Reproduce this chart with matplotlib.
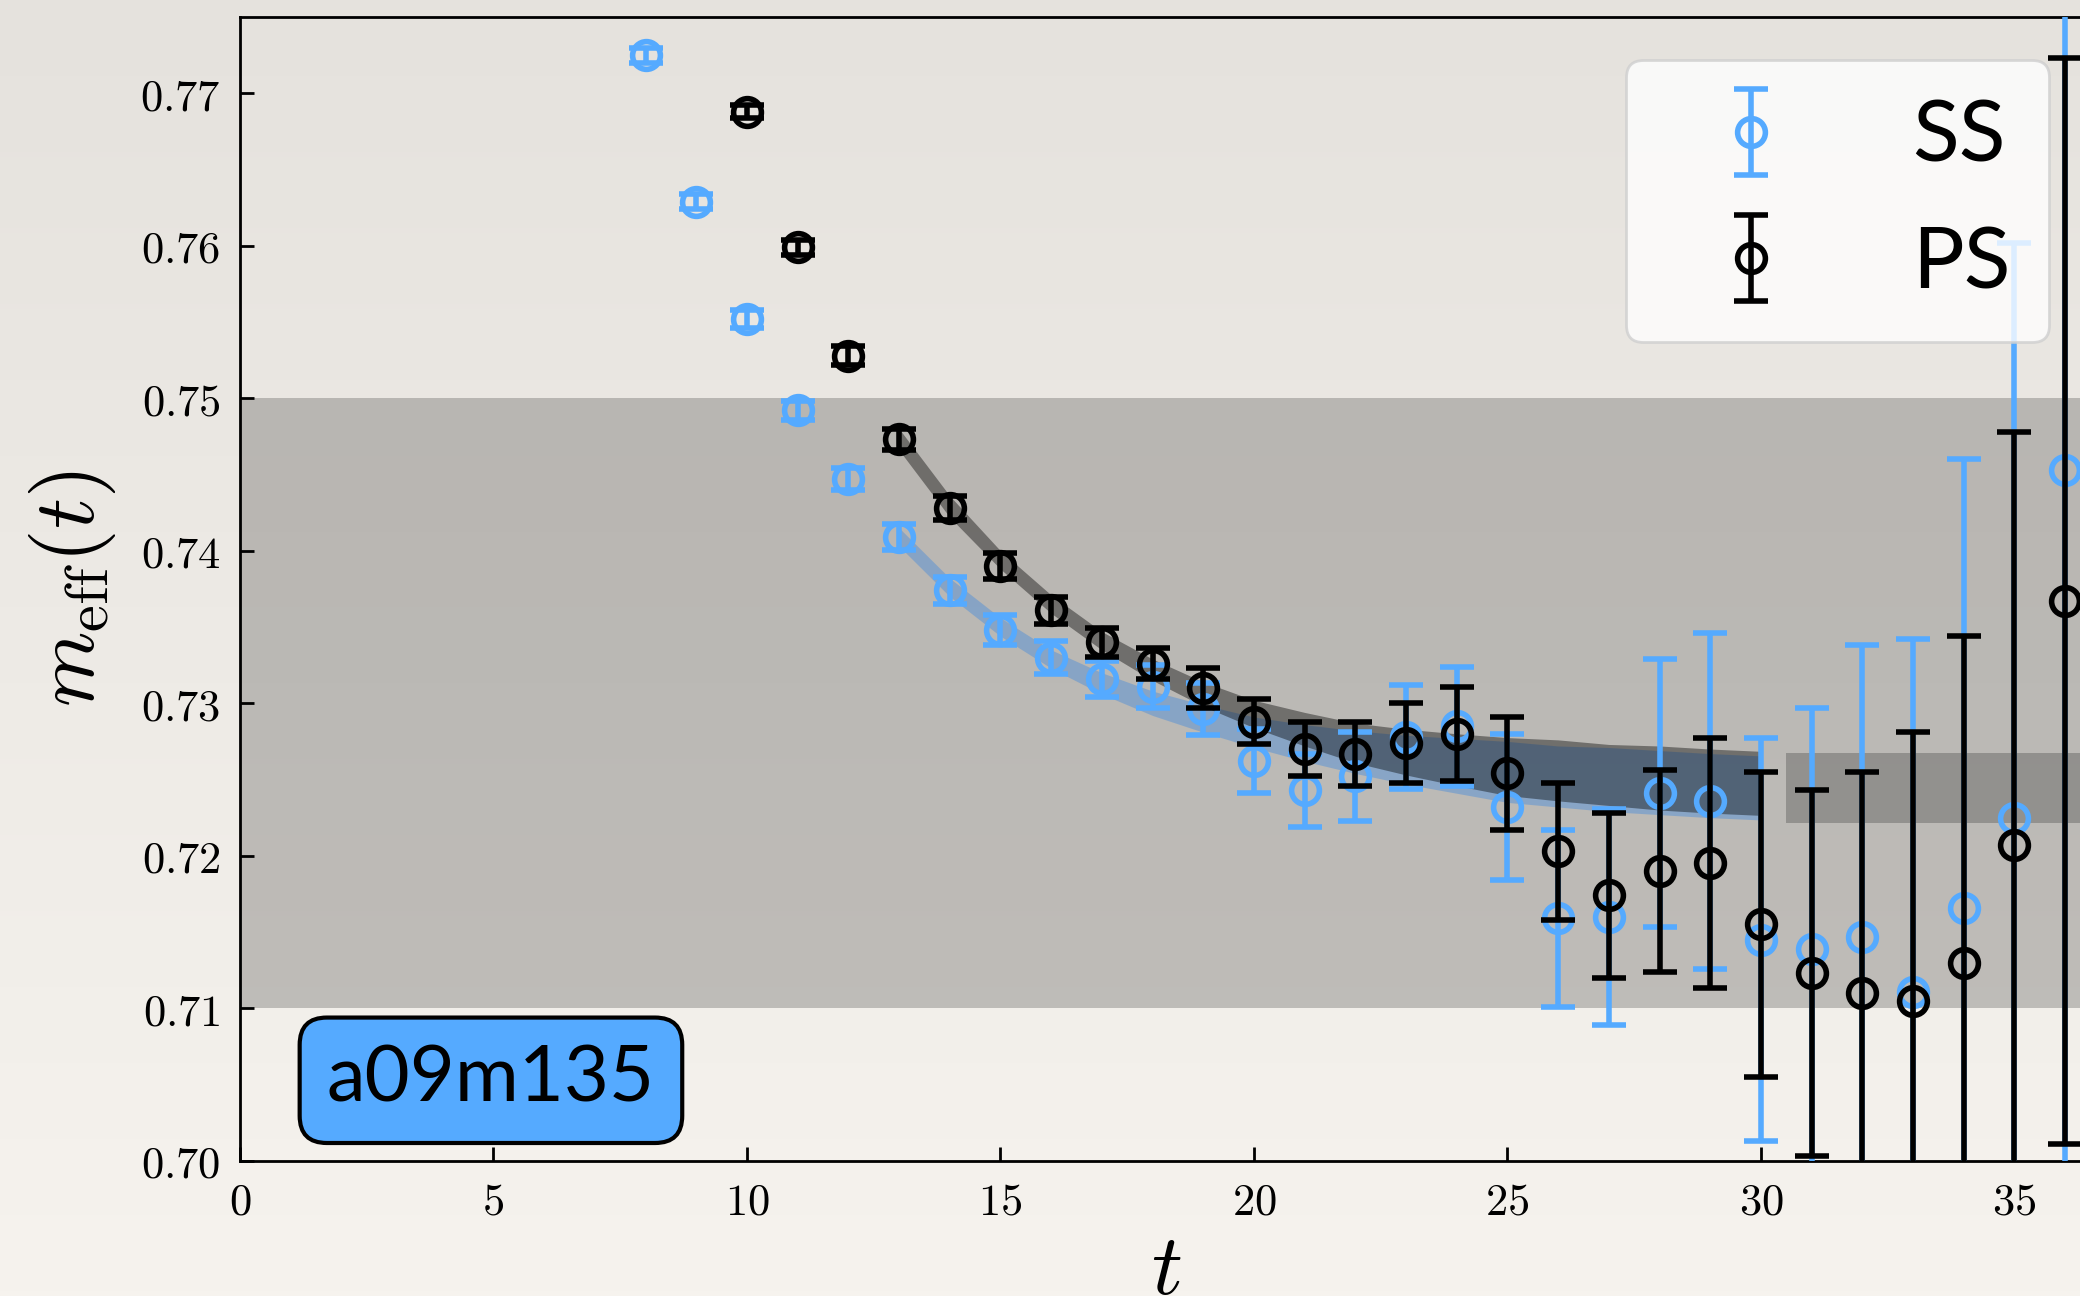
"""Effective mass plot for a09m135: SS and PS correlators with fit bands."""

import numpy as np
import matplotlib
matplotlib.use("Agg")
import matplotlib.pyplot as plt
from matplotlib.colors import LinearSegmentedColormap

plt.rcParams["mathtext.fontset"] = "cm"

# --- data ---
t_ss = list(range(8, 37))
m_ss = [0.7725, 0.7629, 0.7552, 0.7492, 0.7447, 0.7409, 0.7374, 0.7348,
        0.7330, 0.7316, 0.7311, 0.7296, 0.7262, 0.7243, 0.7252, 0.7278,
        0.7285, 0.7232, 0.7159, 0.7160, 0.7241, 0.7236, 0.7145, 0.7139,
        0.7147, 0.7111, 0.7166, 0.7225, 0.7453]
err_ss = [0.0005, 0.0005, 0.0006, 0.0006, 0.0007, 0.00085, 0.0009, 0.00097,
          0.0011, 0.0012, 0.0014, 0.0017, 0.0021, 0.0024, 0.0029, 0.0034,
          0.0039, 0.0048, 0.0058, 0.0071, 0.0088, 0.0110, 0.0132, 0.0158,
          0.0191, 0.0231, 0.0294, 0.0377, 0.0480]

t_ps = list(range(10, 37))
m_ps = [0.7688, 0.7599, 0.7528, 0.7473, 0.7428, 0.7390, 0.7361, 0.7340,
        0.7326, 0.7310, 0.7288, 0.7270, 0.7267, 0.7274, 0.7280, 0.7254,
        0.7203, 0.7174, 0.7190, 0.7195, 0.7155, 0.7123, 0.7110, 0.7105,
        0.7130, 0.7207, 0.7367]
err_ps = [0.0004, 0.0005, 0.0006, 0.0007, 0.00077, 0.00085, 0.0009, 0.00095,
          0.00104, 0.0013, 0.0015, 0.0018, 0.0021, 0.0026, 0.0031, 0.0037,
          0.0045, 0.0054, 0.0066, 0.0082, 0.0100, 0.0120, 0.0145, 0.0176,
          0.0214, 0.0271, 0.0356]

# fit bands (centre and half width) over the fit range
t_fit = list(range(13, 31))
fit_ps = [0.7473, 0.7429, 0.7394, 0.7365, 0.7341, 0.7322, 0.7306, 0.7293,
          0.7283, 0.7274, 0.7268, 0.7263, 0.72585, 0.7256, 0.7253, 0.7251,
          0.7249, 0.72475]
fit_ps_hw = [0.0007, 0.0007, 0.0006, 0.0006, 0.0006, 0.0007, 0.0008, 0.0009,
             0.0011, 0.0013, 0.0015, 0.0017, 0.0019, 0.0020, 0.0020, 0.0021,
             0.0021, 0.0021]
fit_ss = [0.7409, 0.7376, 0.7350, 0.7329, 0.7313, 0.7300, 0.7290, 0.7281,
          0.7274, 0.7268, 0.7263, 0.7259, 0.7255, 0.7252, 0.7250, 0.7248,
          0.7246, 0.72445]
fit_ss_hw = [0.0006, 0.0006, 0.0006, 0.0006, 0.0007, 0.0008, 0.0009, 0.0010,
             0.0012, 0.0014, 0.0016, 0.0018, 0.0020, 0.0020, 0.0021, 0.0021,
             0.0021, 0.0021]

# ground-state plateau and prior band
plateau_t = [30.5, 36.6]
plateau_mean = 0.72445
plateau_hw = 0.0023
prior_lo, prior_hi = 0.71, 0.75

ensemble = "a09m135"
BLUE = "#55aaff"


def paper_background(fig):
    """Soft vertical gradient standing in for the paper texture."""
    bg = fig.add_axes([0, 0, 1, 1], zorder=-10)
    cmap = LinearSegmentedColormap.from_list("paper", ["#e5e2dd", "#f6f3ee"])
    bg.imshow(np.linspace(0, 1, 256).reshape(-1, 1), aspect="auto", cmap=cmap)
    bg.axis("off")


def plot_meff(save_path="out.png"):
    fig = plt.figure(figsize=(10.4, 6.48), dpi=200)
    paper_background(fig)

    ax = fig.add_axes([240 / 2080, 0.10432, 1852 / 2080, 0.88256])
    ax.set_facecolor("none")

    # prior band
    ax.axhspan(prior_lo, prior_hi, color="k", alpha=0.21, lw=0, zorder=0.5)

    # fit bands
    t = np.array(t_fit)
    ss_c, ss_w = np.array(fit_ss), np.array(fit_ss_hw)
    ps_c, ps_w = np.array(fit_ps), np.array(fit_ps_hw)
    ax.fill_between(t, ss_c - ss_w, ss_c + ss_w, color="#5591d6", alpha=0.5,
                    lw=0, zorder=1)
    ax.fill_between(t, ps_c - ps_w, ps_c + ps_w, color="k", alpha=0.4,
                    lw=0, zorder=1.1)
    ax.fill_between(plateau_t, plateau_mean - plateau_hw, plateau_mean + plateau_hw,
                    color="k", alpha=0.22, lw=0, zorder=1)

    # data
    style = dict(fmt="o", ms=10, mew=2.0, mfc="none", elinewidth=2.0,
                 capsize=6, capthick=2.0)
    h_ss = ax.errorbar(t_ss, m_ss, yerr=err_ss, color=BLUE, label="SS",
                       zorder=3, **style)
    h_ps = ax.errorbar(t_ps, m_ps, yerr=err_ps, color="k", label="PS",
                       zorder=4, **style)

    ax.set_xlim(0, 36.53)
    ax.set_ylim(0.70, 0.775)
    xt = [0, 5, 10, 15, 20, 25, 30, 35]
    yt = [0.70, 0.71, 0.72, 0.73, 0.74, 0.75, 0.76, 0.77]
    ax.set_xticks(xt, labels=[f"${v}$" for v in xt])
    ax.set_yticks(yt, labels=[f"${v:.2f}$" for v in yt])
    ax.tick_params(direction="in", length=5, width=1, labelsize=16, pad=7,
                   top=False, right=False)
    for side in ax.spines.values():
        side.set_linewidth(1.0)

    ax.set_xlabel(r"$t$", fontsize=31, labelpad=2)
    ax.set_ylabel(r"$m_{\rm eff}(t)$", fontsize=31, labelpad=8)

    leg = ax.legend(handles=[h_ss, h_ps], loc="upper right",
                    prop={"family": "Lato", "size": 31},
                    framealpha=0.8, edgecolor="#cfcfcf", fancybox=True,
                    borderpad=0.45, handlelength=2.0, handletextpad=0.87,
                    labelspacing=0.56)
    leg.set_zorder(10)

    ax.text(0.1355, 0.0704, ensemble, transform=ax.transAxes, ha="center",
            va="center", fontsize=28, family="Lato", zorder=11,
            bbox=dict(boxstyle="round,pad=0.35", fc=BLUE, ec="k", lw=1.5))

    fig.savefig(save_path, dpi=200)
    plt.close(fig)


if __name__ == "__main__":
    plot_meff("out.png")
